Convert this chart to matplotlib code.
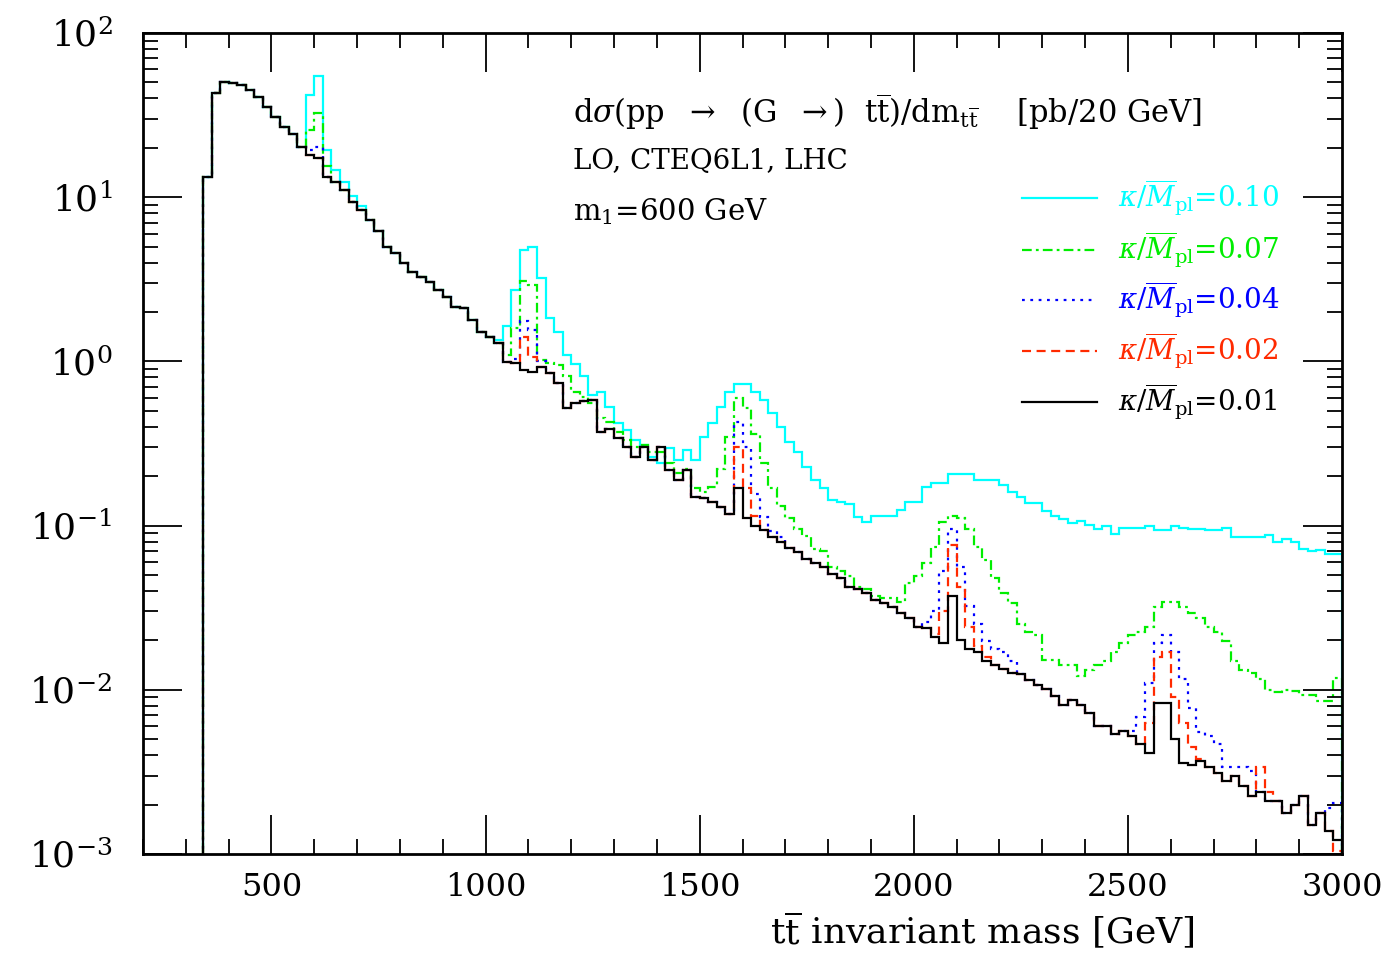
import numpy as np
import matplotlib
matplotlib.use("Agg")
import matplotlib.pyplot as plt
from matplotlib.ticker import MultipleLocator, LogLocator, NullFormatter

plt.rcParams["font.family"] = "DejaVu Serif"
plt.rcParams["mathtext.fontset"] = "dejavuserif"
plt.rcParams["lines.scale_dashes"] = False

# -----------------------------
# Data: 20 GeV bins from 340 to 3000 GeV
# -----------------------------
mass_edges = np.arange(340, 3001, 20)

# kappa/Mpl = 0.01 (black), one value per bin
kappa_001 = [
    13.3, 43, 50.5, 49.4, 48.2, 45, 40.7, 35.6, 30.9, 26.9,
    24.3, 20.3, 18.1, 17.4, 13.3, 12.4, 11.1, 9.3, 8.4, 7.3,
    6.2, 5.0, 4.6, 4.0, 3.5, 3.27, 3.05, 2.72, 2.46, 2.14,
    2.1, 1.79, 1.5, 1.4, 1.29, 0.99, 0.98, 0.89, 0.86, 0.93,
    0.85, 0.74, 0.52, 0.56, 0.57, 0.58, 0.37, 0.39, 0.34, 0.30,
    0.26, 0.30, 0.25, 0.30, 0.217, 0.19, 0.217, 0.15, 0.147, 0.14,
    0.13, 0.117, 0.17, 0.111, 0.10, 0.094, 0.085, 0.079, 0.073, 0.069,
    0.063, 0.059, 0.056, 0.051, 0.048, 0.042, 0.041, 0.039, 0.035, 0.034,
    0.032, 0.0295, 0.0275, 0.024, 0.0237, 0.0209, 0.0193, 0.0372, 0.020, 0.0177,
    0.017, 0.015, 0.0141, 0.0134, 0.0127, 0.0124, 0.0115, 0.0107, 0.0101, 0.0092,
    0.0081, 0.0087, 0.0081, 0.0072, 0.0060, 0.0060, 0.0054, 0.0056, 0.0052, 0.0047,
    0.0041, 0.0083, 0.0083, 0.0050, 0.0036, 0.0035, 0.0037, 0.0034, 0.0031, 0.0028,
    0.0030, 0.0026, 0.00225, 0.0024, 0.0021, 0.0021, 0.00178, 0.0020, 0.00225, 0.00151,
    0.00178, 0.00139, 0.00122,
]

# other couplings: (first bin in GeV, bin values) where they differ from kappa_001
kappa_002 = [
    (1080, [1.4, 1.07]),
    (1580, [0.30, 0.17, 0.115]),
    (2040, [0.0218, 0.0304, 0.0765, 0.042, 0.024, 0.0186, 0.0159]),
    (2540, [0.0063, 0.0158, 0.0169, 0.0091, 0.0063, 0.0045, 0.0038]),
    (2800, [0.0034, 0.0024]),
    (2980, [0.00105]),
]

kappa_004 = [
    (580, [19.4, 20.2]),
    (1060, [1.03, 1.75, 1.55, 1.0]),
    (1580, [0.43, 0.30, 0.156, 0.113, 0.093, 0.085]),
    (2020, [0.026, 0.030, 0.053, 0.095, 0.056, 0.0326, 0.0253, 0.0198, 0.0176, 0.0169, 0.015]),
    (2500, [0.0056, 0.0068, 0.011, 0.0194, 0.0215, 0.0169, 0.0116, 0.0078, 0.0055, 0.0052,
            0.0047, 0.0034, 0.0034, 0.0034, 0.0032]),
    (2960, [0.0019, 0.00205]),
]

kappa_007 = [
    (580, [25.7, 32.6, 15.5]),
    (1040, [1.1, 1.6, 3.1, 2.9, 1.02, 0.98, 0.95, 0.81, 0.65, 0.61,
            0.56, 0.45, 0.43, 0.37, 0.33, 0.30, 0.31, 0.28, 0.28, 0.24,
            0.21, 0.22, 0.17, 0.16, 0.173, 0.22, 0.348, 0.6, 0.52, 0.36,
            0.24, 0.17, 0.131, 0.111, 0.095, 0.086, 0.072, 0.0696, 0.056, 0.053,
            0.049, 0.0425, 0.041, 0.0374, 0.0364, 0.0364, 0.0342, 0.0446, 0.049, 0.059,
            0.0745, 0.105, 0.115, 0.111, 0.095, 0.0745, 0.0614, 0.048, 0.0386, 0.034,
            0.0253, 0.0226, 0.0215, 0.0151, 0.0151, 0.0141, 0.0141, 0.0121, 0.0132, 0.0141,
            0.015, 0.0169, 0.0194, 0.0215, 0.0226, 0.024, 0.032, 0.0342, 0.0342, 0.032,
            0.0295, 0.0274, 0.024, 0.0226, 0.0199, 0.015, 0.0132, 0.0126, 0.0116, 0.010,
            0.0097, 0.010, 0.0099, 0.0093, 0.0093, 0.0085, 0.0085, 0.0118]),
]

kappa_010 = [
    (580, [41.9, 54.7, 19.4, 14.6, 12.4, 10.2, 8.9]),
    (1020, [1.35, 1.65, 2.72, 4.76, 5.0, 3.2, 1.83, 1.51, 1.09, 0.97,
            0.81, 0.62, 0.65, 0.53, 0.42, 0.38, 0.33, 0.31, 0.26, 0.24,
            0.297, 0.25, 0.29, 0.25, 0.348, 0.42, 0.53, 0.655, 0.728, 0.728,
            0.655, 0.58, 0.483, 0.40, 0.324, 0.28, 0.229, 0.19, 0.17, 0.143,
            0.139, 0.136, 0.113, 0.105, 0.115, 0.115, 0.115, 0.125, 0.14, 0.14,
            0.173, 0.182, 0.182, 0.206, 0.206, 0.206, 0.19, 0.19, 0.19, 0.177,
            0.16, 0.15, 0.137, 0.137, 0.122, 0.115, 0.11, 0.104, 0.106, 0.101,
            0.095, 0.099, 0.0885, 0.097, 0.097, 0.097, 0.099, 0.0937, 0.0937, 0.099,
            0.097, 0.096, 0.096, 0.094, 0.094, 0.097, 0.0855, 0.0855, 0.0855, 0.0855,
            0.088, 0.0797, 0.0823, 0.0797, 0.0725, 0.0696, 0.071, 0.0668, 0.0668]),
]

labels = ["0.10", "0.07", "0.04", "0.02", "0.01"]
colors = ["#00ffff", "#00ee00", "#0000ff", "#ff2a00", "#000000"]
styles = ["-", (0, (7, 3, 2, 3)), (0, (2, 4)), (0, (6.5, 4)), "-"]


def build(base, segments):
    vals = np.array(base, dtype=float)
    for start, seg in segments:
        i = (start - mass_edges[0]) // 20
        vals[i:i + len(seg)] = seg
    return vals[:len(mass_edges) - 1]


series = [build(kappa_001, kappa_010), build(kappa_001, kappa_007),
          build(kappa_001, kappa_004), build(kappa_001, kappa_002),
          np.array(kappa_001, dtype=float)]

# -----------------------------
# Plot
# -----------------------------
fig = plt.figure(figsize=(13.92, 9.56), dpi=100)
ax = fig.add_axes([143 / 1392, 1 - 854 / 956, 1199 / 1392, 821 / 956])

for vals, c, ls in zip(series, colors, styles):
    ax.stairs(vals, mass_edges, baseline=1e-5, color=c, lw=1.6, linestyle=ls)

ax.set_yscale("log")
ax.set_xlim(200, 3000)
ax.set_ylim(1e-3, 1e2)

ax.xaxis.set_major_locator(MultipleLocator(500))
ax.xaxis.set_minor_locator(MultipleLocator(100))
ax.yaxis.set_major_locator(LogLocator(base=10, numticks=10))
ax.yaxis.set_minor_locator(LogLocator(base=10, subs=np.arange(2, 10), numticks=10))
ax.yaxis.set_minor_formatter(NullFormatter())

ax.tick_params(which="both", direction="in", top=True, right=True, width=1.3)
ax.tick_params(which="major", length=28)
ax.tick_params(which="minor", length=11)
ax.tick_params(axis="x", pad=13, labelsize=23)
ax.tick_params(axis="y", pad=22, labelsize=26)
for s in ax.spines.values():
    s.set_linewidth(2)

ax.set_xlabel(r"t$\overline{\rm t}$ invariant mass [GeV]", fontsize=26, ha="right")
ax.xaxis.set_label_coords(0.877, -0.068)

# text block
ax.text(0.359, 0.904,
        r"d$\sigma$(pp  $\rightarrow$  (G  $\rightarrow$)  t$\overline{\rm t}$)/dm$_{\rm t\overline{t}}$    [pb/20 GeV]",
        transform=ax.transAxes, fontsize=22, va="center", ha="left")
ax.text(0.359, 0.843, "LO, CTEQ6L1, LHC", transform=ax.transAxes, fontsize=20, va="center", ha="left")
ax.text(0.359, 0.782, r"m$_{1}$=600 GeV", transform=ax.transAxes, fontsize=21, va="center", ha="left")

# legend drawn by hand
leg_y = [0.799, 0.7357, 0.6748, 0.6127, 0.5505]
for y, lab, c, ls in zip(leg_y, labels, colors, styles):
    ax.plot([0.733, 0.7957], [y, y], transform=ax.transAxes, color=c, lw=1.6, linestyle=ls)
    ax.text(0.8132, y, r"$\kappa/\overline{M}_{\rm pl}$=" + lab, transform=ax.transAxes,
            color=c, fontsize=20, va="center", ha="left")

fig.savefig("out.png", dpi=100)
